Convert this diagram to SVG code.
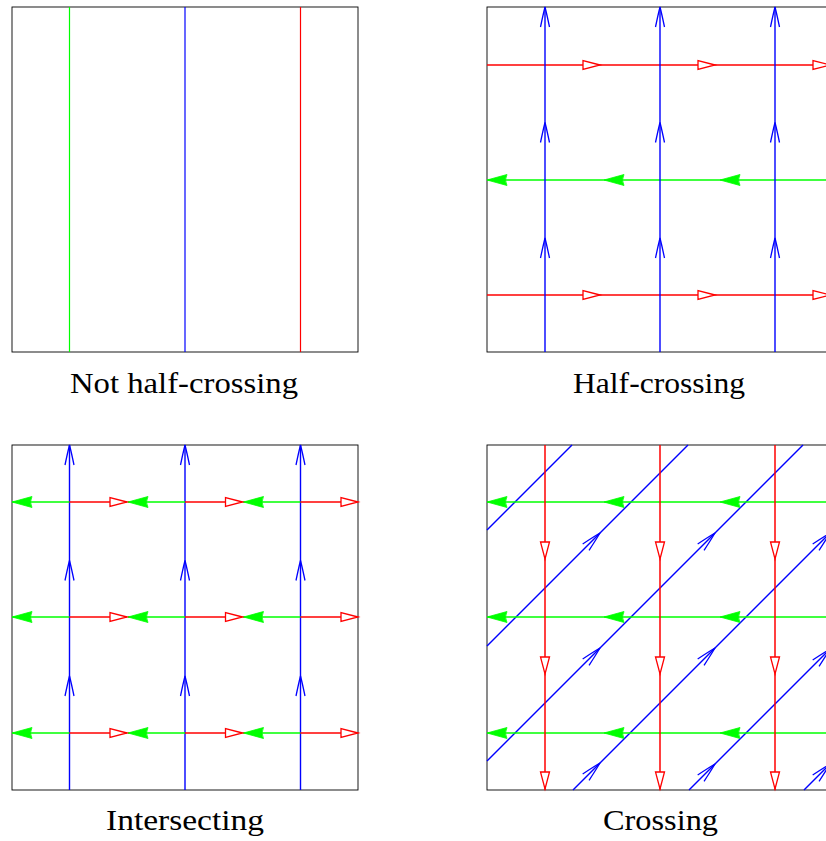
<svg xmlns="http://www.w3.org/2000/svg" xmlns:xlink="http://www.w3.org/1999/xlink" width="826" height="841" viewBox="0 0 826 841">
<style>
.frame{fill:none;stroke:#000;stroke-width:0.9}
.b{stroke:#0000ff;stroke-width:1.4;fill:none}
.r{stroke:#ff0000;stroke-width:1.5;fill:none}
.g{stroke:#00ff00;stroke-width:1.6;fill:none}
.lbl{font-family:"Liberation Serif","DejaVu Serif",serif;font-size:30px;fill:#000;text-anchor:middle}
</style>
<defs>
<path id="bv" d="M-20,-4.5 Q-8,-2 0,0 Q-8,2 -20,4.5" fill="none" stroke="#0000ff" stroke-width="1.3"/>
<path id="rt" d="M0,0 L-17,-4.5 L-17,4.5 Z" fill="#fff" stroke="#ff0000" stroke-width="1.3"/>
<path id="gt" d="M0,0 L-20,-5.5 Q-17,0 -20,5.5 Z" fill="#00ff00" stroke="#00ff00" stroke-width="0.8"/>
</defs>

<!-- Panel 1: Not half-crossing -->
<g id="panel1">
<rect class="frame" x="12" y="7" width="346" height="345"/>
<line class="g" x1="69.5" y1="7" x2="69.5" y2="352" style="stroke-width:1.2"/>
<line class="b" x1="185" y1="7" x2="185" y2="352" style="stroke-width:1.2"/>
<line class="r" x1="300.5" y1="7" x2="300.5" y2="352" style="stroke-width:1.2"/>
<text class="lbl" x="184" y="393" textLength="228" lengthAdjust="spacingAndGlyphs">Not half-crossing</text>
</g>

<!-- Panel 2: Half-crossing -->
<g id="panel2">
<rect class="frame" x="487" y="7" width="346" height="345"/>
<g id="p2-connectors">
<line class="r" x1="487" y1="65" x2="833" y2="65"/>
<line class="r" x1="487" y1="295" x2="833" y2="295"/>
<line class="g" x1="487" y1="180" x2="833" y2="180"/>
<line class="b" x1="545" y1="7" x2="545" y2="352"/>
<line class="b" x1="660" y1="7" x2="660" y2="352"/>
<line class="b" x1="775" y1="7" x2="775" y2="352"/>
<use xlink:href="#rt" transform="translate(600,65)"/>
<use xlink:href="#rt" transform="translate(715,65)"/>
<use xlink:href="#rt" transform="translate(830,65)"/>
<use xlink:href="#rt" transform="translate(600,295)"/>
<use xlink:href="#rt" transform="translate(715,295)"/>
<use xlink:href="#rt" transform="translate(830,295)"/>
<use xlink:href="#gt" transform="translate(487,180) rotate(180)"/>
<use xlink:href="#gt" transform="translate(604,180) rotate(180)"/>
<use xlink:href="#gt" transform="translate(720,180) rotate(180)"/>
<use xlink:href="#bv" transform="translate(545,7) rotate(-90)"/>
<use xlink:href="#bv" transform="translate(545,122.5) rotate(-90)"/>
<use xlink:href="#bv" transform="translate(545,238) rotate(-90)"/>
<use xlink:href="#bv" transform="translate(660,7) rotate(-90)"/>
<use xlink:href="#bv" transform="translate(660,122.5) rotate(-90)"/>
<use xlink:href="#bv" transform="translate(660,238) rotate(-90)"/>
<use xlink:href="#bv" transform="translate(775,7) rotate(-90)"/>
<use xlink:href="#bv" transform="translate(775,122.5) rotate(-90)"/>
<use xlink:href="#bv" transform="translate(775,238) rotate(-90)"/>
</g>
<text class="lbl" x="659" y="393" textLength="172" lengthAdjust="spacingAndGlyphs">Half-crossing</text>
</g>

<!-- Panel 3: Intersecting -->
<g id="panel3">
<rect class="frame" x="12" y="445" width="346" height="345"/>
<g id="p3-connectors">
<line class="b" x1="69.5" y1="445" x2="69.5" y2="790"/>
<line class="b" x1="185" y1="445" x2="185" y2="790"/>
<line class="b" x1="300.5" y1="445" x2="300.5" y2="790"/>
<g id="p3-h502">
<line class="g" x1="12" y1="502" x2="69.5" y2="502"/>
<line class="r" x1="69.5" y1="502" x2="127" y2="502"/>
<line class="g" x1="127.5" y1="502" x2="185" y2="502"/>
<line class="r" x1="185" y1="502" x2="242.5" y2="502"/>
<line class="g" x1="243" y1="502" x2="300.5" y2="502"/>
<line class="r" x1="300.5" y1="502" x2="358" y2="502"/>
</g>
<g id="p3-h617">
<line class="g" x1="12" y1="617" x2="69.5" y2="617"/>
<line class="r" x1="69.5" y1="617" x2="127" y2="617"/>
<line class="g" x1="127.5" y1="617" x2="185" y2="617"/>
<line class="r" x1="185" y1="617" x2="242.5" y2="617"/>
<line class="g" x1="243" y1="617" x2="300.5" y2="617"/>
<line class="r" x1="300.5" y1="617" x2="358" y2="617"/>
</g>
<g id="p3-h733">
<line class="g" x1="12" y1="733" x2="69.5" y2="733"/>
<line class="r" x1="69.5" y1="733" x2="127" y2="733"/>
<line class="g" x1="127.5" y1="733" x2="185" y2="733"/>
<line class="r" x1="185" y1="733" x2="242.5" y2="733"/>
<line class="g" x1="243" y1="733" x2="300.5" y2="733"/>
<line class="r" x1="300.5" y1="733" x2="358" y2="733"/>
</g>
<use xlink:href="#gt" transform="translate(12,502) rotate(180)"/>
<use xlink:href="#gt" transform="translate(128,502) rotate(180)"/>
<use xlink:href="#gt" transform="translate(243.5,502) rotate(180)"/>
<use xlink:href="#rt" transform="translate(127,502)"/>
<use xlink:href="#rt" transform="translate(242.5,502)"/>
<use xlink:href="#rt" transform="translate(358,502)"/>
<use xlink:href="#gt" transform="translate(12,617) rotate(180)"/>
<use xlink:href="#gt" transform="translate(128,617) rotate(180)"/>
<use xlink:href="#gt" transform="translate(243.5,617) rotate(180)"/>
<use xlink:href="#rt" transform="translate(127,617)"/>
<use xlink:href="#rt" transform="translate(242.5,617)"/>
<use xlink:href="#rt" transform="translate(358,617)"/>
<use xlink:href="#gt" transform="translate(12,733) rotate(180)"/>
<use xlink:href="#gt" transform="translate(128,733) rotate(180)"/>
<use xlink:href="#gt" transform="translate(243.5,733) rotate(180)"/>
<use xlink:href="#rt" transform="translate(127,733)"/>
<use xlink:href="#rt" transform="translate(242.5,733)"/>
<use xlink:href="#rt" transform="translate(358,733)"/>
<use xlink:href="#bv" transform="translate(69.5,445) rotate(-90)"/>
<use xlink:href="#bv" transform="translate(69.5,560.5) rotate(-90)"/>
<use xlink:href="#bv" transform="translate(69.5,676) rotate(-90)"/>
<use xlink:href="#bv" transform="translate(185,445) rotate(-90)"/>
<use xlink:href="#bv" transform="translate(185,560.5) rotate(-90)"/>
<use xlink:href="#bv" transform="translate(185,676) rotate(-90)"/>
<use xlink:href="#bv" transform="translate(300.5,445) rotate(-90)"/>
<use xlink:href="#bv" transform="translate(300.5,560.5) rotate(-90)"/>
<use xlink:href="#bv" transform="translate(300.5,676) rotate(-90)"/>
</g>
<text class="lbl" x="185" y="830" textLength="158" lengthAdjust="spacingAndGlyphs">Intersecting</text>
</g>

<!-- Panel 4: Crossing -->
<g id="panel4">
<rect class="frame" x="487" y="445" width="346" height="345"/>
<g id="p4-connectors">
<line class="b" x1="487" y1="530" x2="572" y2="445"/>
<line class="b" x1="487" y1="646" x2="688" y2="445"/>
<line class="b" x1="487" y1="761" x2="803" y2="445"/>
<line class="b" x1="573" y1="790" x2="833" y2="530"/>
<line class="b" x1="689" y1="790" x2="833" y2="646"/>
<line class="b" x1="804" y1="790" x2="833" y2="761"/>
<use xlink:href="#bv" transform="translate(600,533) rotate(-45)"/>
<use xlink:href="#bv" transform="translate(600,648) rotate(-45)"/>
<use xlink:href="#bv" transform="translate(715,533) rotate(-45)"/>
<use xlink:href="#bv" transform="translate(600,763) rotate(-45)"/>
<use xlink:href="#bv" transform="translate(715,648) rotate(-45)"/>
<use xlink:href="#bv" transform="translate(830,533) rotate(-45)"/>
<use xlink:href="#bv" transform="translate(715,764) rotate(-45)"/>
<use xlink:href="#bv" transform="translate(830,649) rotate(-45)"/>
<use xlink:href="#bv" transform="translate(830,764) rotate(-45)"/>
<line class="g" x1="487" y1="502" x2="833" y2="502"/>
<line class="g" x1="487" y1="617" x2="833" y2="617"/>
<line class="g" x1="487" y1="733" x2="833" y2="733"/>
<use xlink:href="#gt" transform="translate(487,502) rotate(180)"/>
<use xlink:href="#gt" transform="translate(604,502) rotate(180)"/>
<use xlink:href="#gt" transform="translate(720,502) rotate(180)"/>
<use xlink:href="#gt" transform="translate(487,617) rotate(180)"/>
<use xlink:href="#gt" transform="translate(604,617) rotate(180)"/>
<use xlink:href="#gt" transform="translate(720,617) rotate(180)"/>
<use xlink:href="#gt" transform="translate(487,733) rotate(180)"/>
<use xlink:href="#gt" transform="translate(604,733) rotate(180)"/>
<use xlink:href="#gt" transform="translate(720,733) rotate(180)"/>
<line class="r" x1="545" y1="445" x2="545" y2="790"/>
<line class="r" x1="660" y1="445" x2="660" y2="790"/>
<line class="r" x1="775" y1="445" x2="775" y2="790"/>
<use xlink:href="#rt" transform="translate(545,559) rotate(90)"/>
<use xlink:href="#rt" transform="translate(545,674) rotate(90)"/>
<use xlink:href="#rt" transform="translate(545,789) rotate(90)"/>
<use xlink:href="#rt" transform="translate(660,559) rotate(90)"/>
<use xlink:href="#rt" transform="translate(660,674) rotate(90)"/>
<use xlink:href="#rt" transform="translate(660,789) rotate(90)"/>
<use xlink:href="#rt" transform="translate(775,559) rotate(90)"/>
<use xlink:href="#rt" transform="translate(775,674) rotate(90)"/>
<use xlink:href="#rt" transform="translate(775,789) rotate(90)"/>
</g>
<text class="lbl" x="660.5" y="830" textLength="115" lengthAdjust="spacingAndGlyphs">Crossing</text>
</g>
</svg>
